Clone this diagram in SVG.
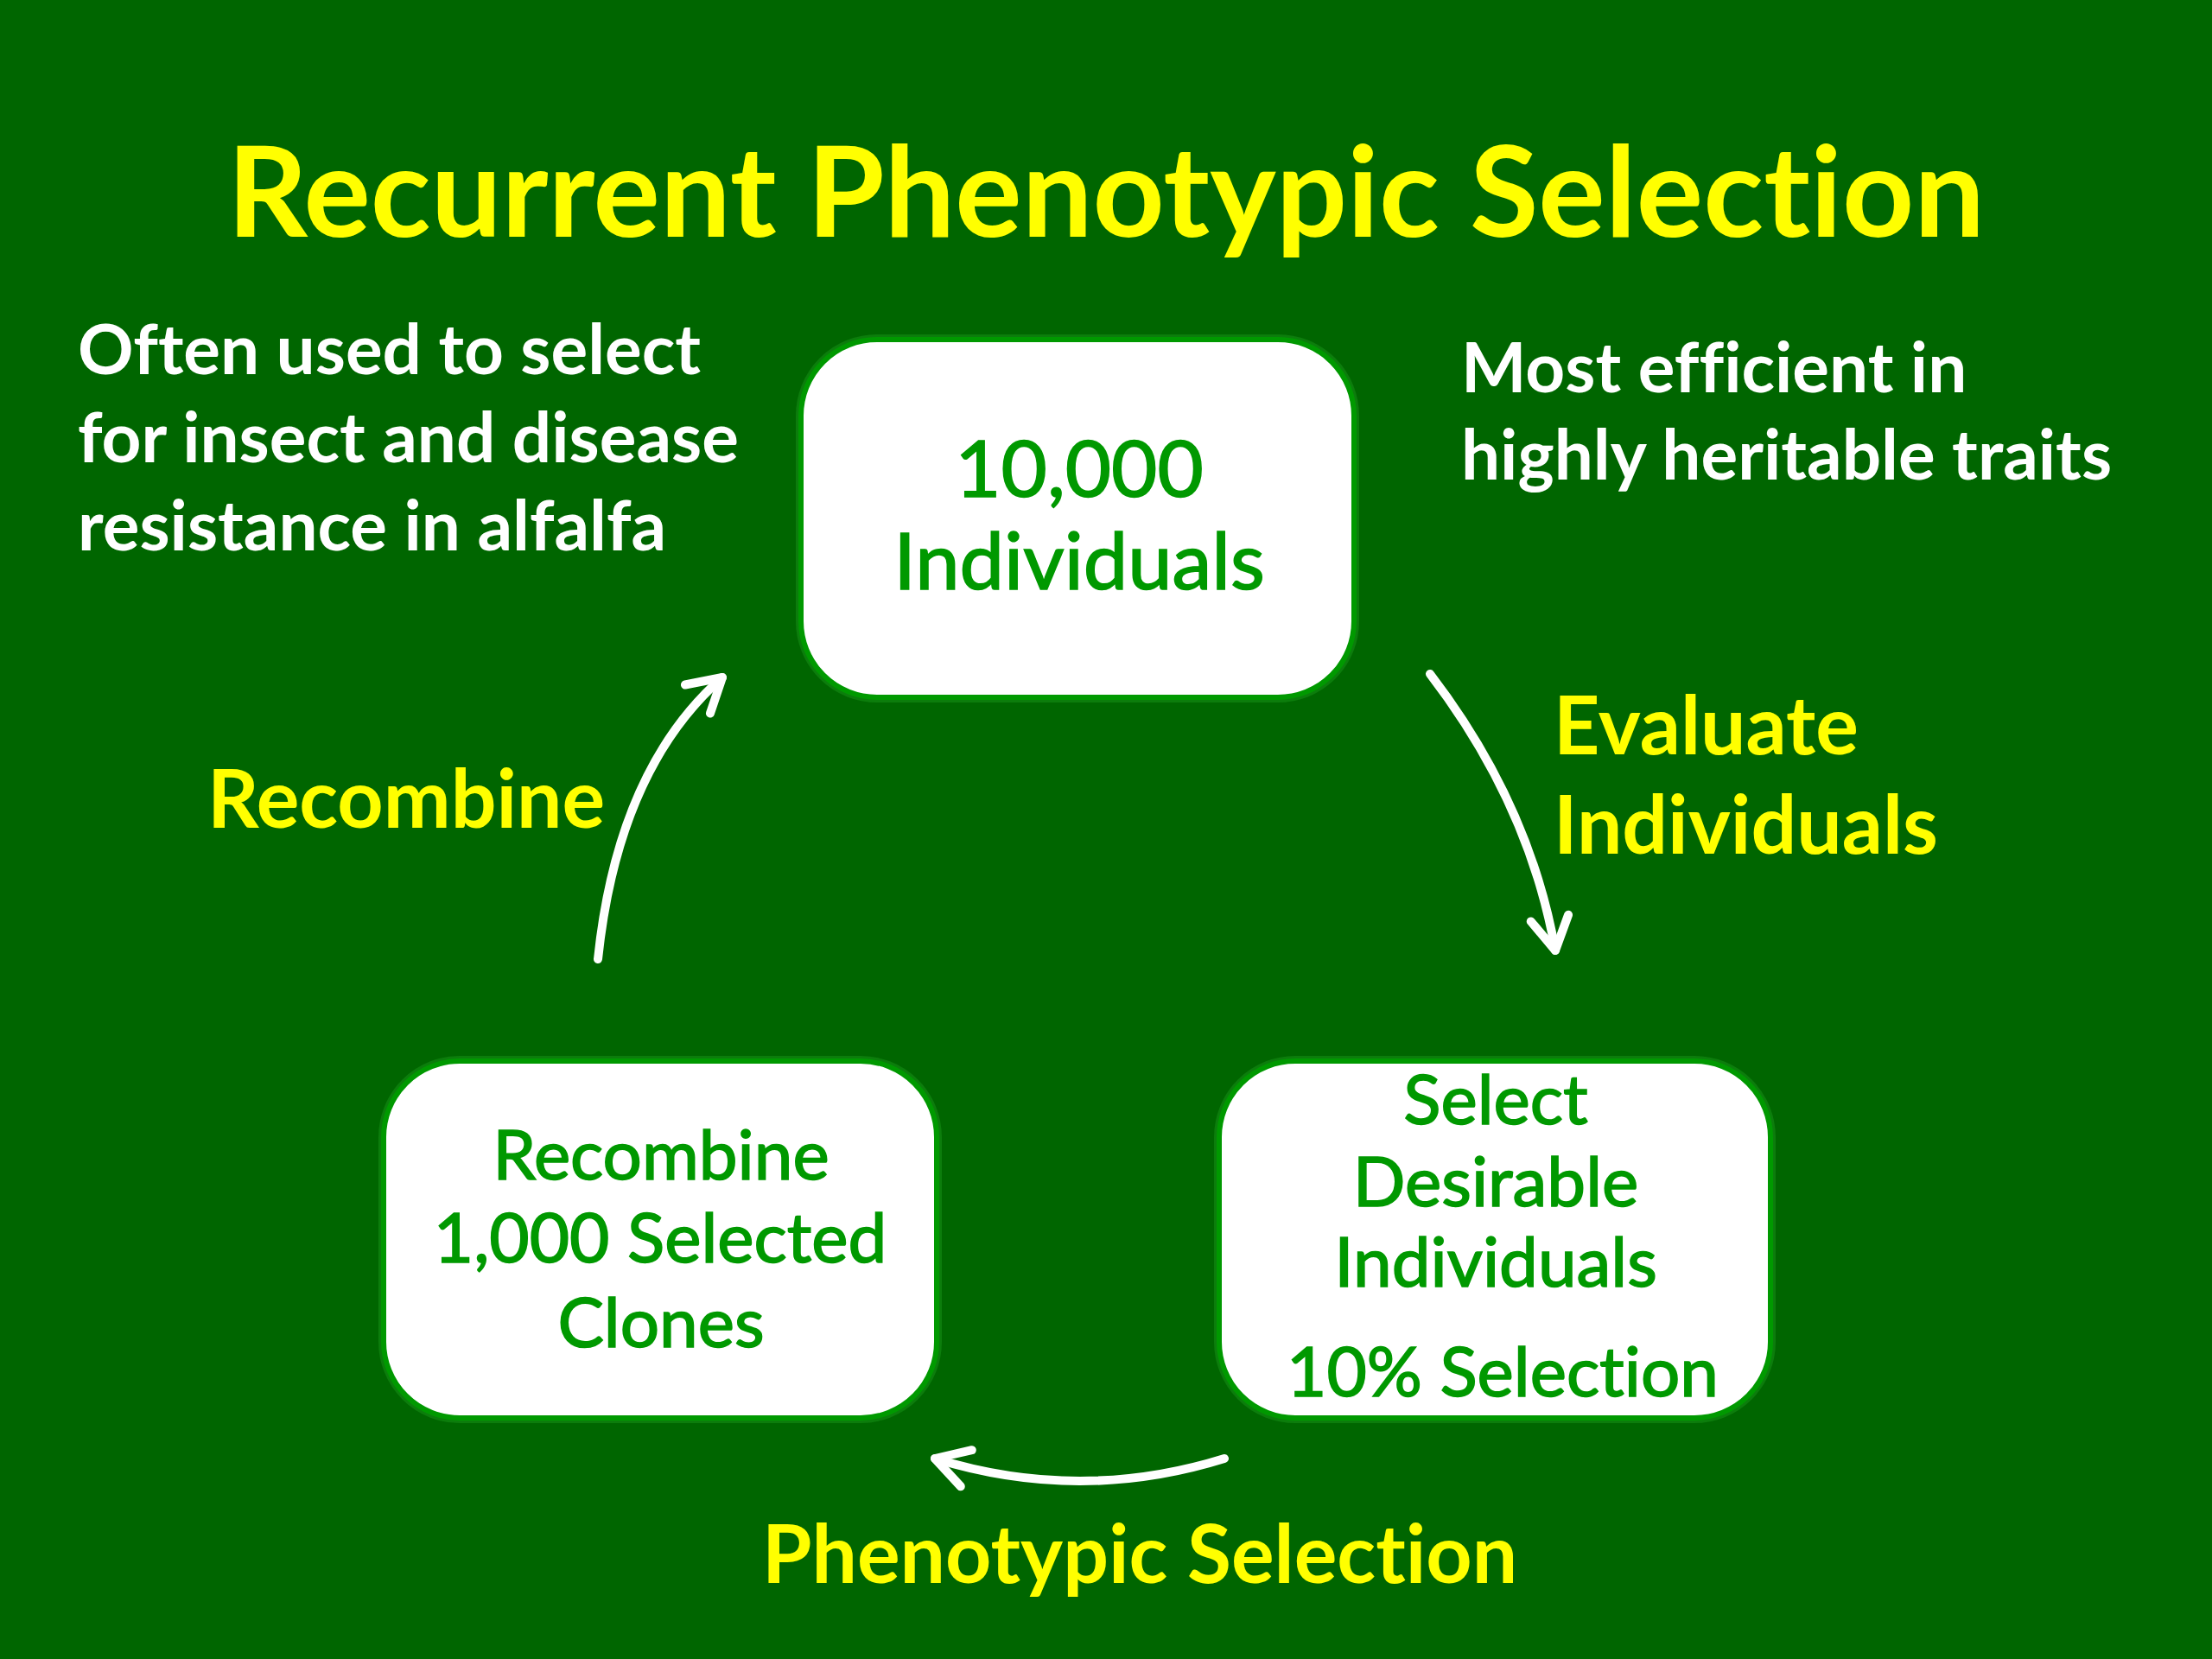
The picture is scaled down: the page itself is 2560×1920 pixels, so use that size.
<svg xmlns="http://www.w3.org/2000/svg" width="2560" height="1920" viewBox="0 0 2560 1920">
<style>
text{font-variant-ligatures:none}
.bg{fill:#006600}
.box{fill:#ffffff;stroke:#009900;stroke-width:6}
.glow{fill:none;stroke:#22aa22;stroke-width:12;opacity:0.35}
.bt{font-family:Lato,"Open Sans","Liberation Sans",sans-serif;font-size:80px;fill:#009900;stroke:#009900;stroke-width:1.6;text-anchor:middle}
.bt-lg{font-size:92px}
.wt{font-family:Lato,"Open Sans","Liberation Sans",sans-serif;font-weight:bold;font-size:80px;fill:#ffffff}
.yt{font-family:Lato,"Open Sans","Liberation Sans",sans-serif;font-weight:bold;font-size:93px;fill:#ffff00}
.title{font-family:Lato,"Open Sans","Liberation Sans",sans-serif;font-weight:bold;font-size:145px;fill:#ffff00;text-anchor:middle}
.arr{fill:none;stroke:#ffffff;stroke-width:10;stroke-linecap:round}
</style>
<defs>
<marker id="head" markerUnits="userSpaceOnUse" markerWidth="80" markerHeight="80" viewBox="-50 -40 80 80" refX="0" refY="0" orient="auto">
<path d="M-38,-22 L0,0 L-38,22" fill="none" stroke="#ffffff" stroke-width="10" stroke-linecap="round" stroke-linejoin="round"/>
</marker>
</defs>
<rect class="bg" x="0" y="0" width="2560" height="1920"/>
<text class="title" x="1280" y="274">Recurrent Phenotypic Selection</text>
<g id="note-left">
<text class="wt" x="90" y="433">Often used to select</text>
<text class="wt" x="90" y="535">for insect and disease</text>
<text class="wt" x="90" y="637">resistance in alfalfa</text>
</g>
<g id="note-right">
<text class="wt" x="1691" y="454">Most efficient in</text>
<text class="wt" x="1691" y="555">highly heritable traits</text>
</g>
<g id="node-top">
<rect class="glow" x="927" y="393" width="640" height="414" rx="88"/>
<rect class="box" x="927" y="393" width="640" height="414" rx="88"/>
<text class="bt bt-lg" x="1249" y="575">10,000</text>
<text class="bt bt-lg" x="1249" y="682">Individuals</text>
</g>
<g id="node-right">
<rect class="glow" x="1411" y="1228" width="638" height="413" rx="88"/>
<rect class="box" x="1411" y="1228" width="638" height="413" rx="88"/>
<text class="bt" x="1731" y="1301">Select</text>
<text class="bt" x="1731" y="1396">Desirable</text>
<text class="bt" x="1731" y="1489">Individuals</text>
<text class="bt" x="1739" y="1616">10% Selection</text>
</g>
<g id="node-left">
<rect class="glow" x="444" y="1228" width="640" height="413" rx="88"/>
<rect class="box" x="444" y="1228" width="640" height="413" rx="88"/>
<text class="bt" x="765" y="1365">Recombine</text>
<text class="bt" x="764" y="1461">1,000 Selected</text>
<text class="bt" x="765" y="1559">Clones</text>
</g>
<g id="connectors">
<path class="arr" d="M1655,780 Q1770,930 1800,1100" marker-end="url(#head)"/>
<path class="arr" d="M1417,1688 Q1250,1740 1082,1688" marker-end="url(#head)"/>
<path class="arr" d="M692,1110 Q715,890 836,784" marker-end="url(#head)"/>
</g>
<g id="labels">
<text class="yt" x="1798" y="873">Evaluate</text>
<text class="yt" x="1798" y="988">Individuals</text>
<text class="yt" x="240" y="958">Recombine</text>
<text class="yt" x="882" y="1832" font-size="89">Phenotypic Selection</text>
</g>
</svg>
